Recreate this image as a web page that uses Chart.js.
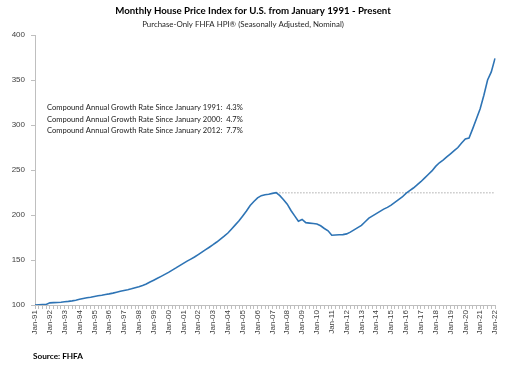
<!DOCTYPE html>
<html>
<head>
<meta charset="utf-8">
<script src="https://cdn.jsdelivr.net/npm/chart.js@4"></script>
<style>
  html, body { margin: 0; padding: 0; background: #fff; }
  #wrap { width: 512px; height: 365px; position: relative; }
</style>
</head>
<body>
<div id="wrap"><canvas id="hpi"></canvas></div>
<script>
// Quarterly readings (Jan, Apr, Jul, Oct) of the monthly index, Jan 1991 = 100
const years = ['91','92','93','94','95','96','97','98','99','00','01','02','03','04','05','06',
               '07','08','09','10','11','12','13','14','15','16','17','18','19','20','21','22'];
const quarterMonths = ['Jan', 'Apr', 'Jul', 'Oct'];

const hpi = [
  100.0, 100.2, 100.4, 100.6,   // 1991
  102.4, 102.6, 102.8, 103.1,   // 1992
  103.6, 104.0, 104.6, 105.3,   // 1993
  106.3, 107.2, 108.0, 108.7,   // 1994
  109.5, 110.2, 110.9, 111.7,   // 1995
  112.4, 113.2, 114.2, 115.2,   // 1996
  116.1, 117.0, 118.0, 119.1,   // 1997
  120.2, 121.7, 123.4, 125.6,   // 1998
  127.6, 129.7, 131.8, 134.0,   // 1999
  136.3, 138.8, 141.2, 143.8,   // 2000
  146.3, 148.7, 151.0, 153.3,   // 2001
  156.0, 158.8, 161.5, 164.2,   // 2002
  167.0, 170.0, 173.3, 176.5,   // 2003
  180.0, 184.5, 189.0, 193.5,   // 2004
  199.0, 204.5, 210.5, 215.0,   // 2005
  219.0, 221.5, 222.5, 223.0,   // 2006
  224.0, 224.8, 221.5, 217.0,   // 2007
  212.0, 205.0, 199.0, 193.0,   // 2008
  195.0, 191.5, 191.0, 190.5,   // 2009
  190.0, 188.0, 185.0, 182.5,   // 2010
  177.5, 177.8, 178.0, 178.2,   // 2011
  179.0, 181.0, 183.5, 186.0,   // 2012
  188.5, 192.5, 196.5, 199.0,   // 2013
  201.5, 204.0, 206.5, 208.5,   // 2014
  211.0, 214.0, 217.0, 220.0,   // 2015
  224.0, 227.0, 230.0, 233.5,   // 2016
  237.0, 241.0, 245.0, 249.0,   // 2017
  254.0, 258.0, 261.0, 264.5,   // 2018
  268.0, 271.5, 275.0, 280.0,   // 2019
  284.5, 285.5, 296.0, 307.0,   // 2020
  318.0, 333.0, 350.0, 359.0,   // 2021
  374.0                         // Jan 2022
];

const yTicks = [100, 150, 200, 250, 300, 350, 400];

const growthNotes = [
  'Compound Annual Growth Rate Since January 1991:  4.3%',
  'Compound Annual Growth Rate Since January 2000:  4.7%',
  'Compound Annual Growth Rate Since January 2012:  7.7%'
];

const titleText = 'Monthly House Price Index for U.S. from January 1991 - Present';
const subtitleText = 'Purchase-Only FHFA HPI\u00AE (Seasonally Adjusted, Nominal)';
const sourceText = 'Source: FHFA';

// build category labels, one per quarter, ending at Jan-22
const labels = [];
years.forEach(y => quarterMonths.forEach(m => labels.push(m + '-' + y)));
labels.length = hpi.length;

// dotted reference line at the 2007 peak
const peakValue = Math.max(...hpi.slice(0, 80));
const peakIndex = hpi.indexOf(peakValue);
const peakLine = hpi.map((v, i) => (i >= peakIndex ? peakValue : null));

// pick a font size so the text spans the width seen in the original
function fitFont(ctx, text, weight, family, width) {
  ctx.font = weight + ' 10px ' + family;
  const size = 10 * width / ctx.measureText(text).width;
  ctx.font = weight + ' ' + size.toFixed(2) + 'px ' + family;
}

const textPlugin = {
  id: 'texts',
  afterDraw(chart) {
    const ctx = chart.ctx;
    ctx.save();
    ctx.textBaseline = 'middle';

    ctx.fillStyle = '#000';
    ctx.textAlign = 'center';
    fitFont(ctx, titleText, 'bold', 'Lato', 276);
    ctx.fillText(titleText, 253, 11);

    ctx.fillStyle = '#262626';
    fitFont(ctx, subtitleText, 'normal', 'Lato', 202);
    ctx.fillText(subtitleText, 243, 24);

    ctx.textAlign = 'left';
    ctx.fillStyle = '#1a1a1a';
    fitFont(ctx, growthNotes[0], 'normal', 'Lato', 196);
    growthNotes.forEach((t, i) => ctx.fillText(t, 47, 108 + i * 11.5));

    ctx.fillStyle = '#000';
    fitFont(ctx, sourceText, 'bold', 'Lato', 50);
    ctx.fillText(sourceText, 33, 356);
    ctx.restore();
  }
};

new Chart(document.getElementById('hpi'), {
  type: 'line',
  data: {
    labels: labels,
    datasets: [
      {
        data: hpi,
        borderColor: '#2e74b5',
        borderWidth: 1.6,
        pointRadius: 0,
        tension: 0,
        fill: false
      },
      {
        data: peakLine,
        borderColor: '#c8c8c8',
        borderWidth: 1.5,
        borderDash: [1.5, 1.5],
        pointRadius: 0,
        fill: false
      }
    ]
  },
  options: {
    responsive: true,
    maintainAspectRatio: false,
    animation: false,
    layout: { padding: { top: 35, right: 17, left: 0, bottom: 0 } },
    plugins: {
      legend: { display: false },
      tooltip: { enabled: false }
    },
    scales: {
      x: {
        type: 'category',
        offset: false,
        border: { color: '#bfbfbf', width: 1 },
        grid: { drawOnChartArea: false, drawTicks: true, tickLength: 4, color: '#bfbfbf' },
        ticks: {
          autoSkip: false,
          minRotation: 90,
          maxRotation: 90,
          padding: 1,
          color: '#404040',
          font: { family: '"Liberation Sans"', size: 8 },
          callback: function (val, i) {
            return i % 4 === 0 ? labels[i] : '';
          }
        },
        afterFit: s => { s.height = 60; }
      },
      y: {
        min: 100,
        max: 400,
        border: { color: '#bfbfbf', width: 1 },
        grid: { drawOnChartArea: false, drawTicks: true, tickLength: 4, color: '#bfbfbf' },
        afterBuildTicks: s => { s.ticks = yTicks.map(v => ({ value: v })); },
        ticks: {
          padding: 6,
          color: '#404040',
          font: { family: '"Liberation Sans"', size: 8 }
        },
        afterFit: s => { s.width = 35; }
      }
    }
  },
  plugins: [textPlugin]
});
</script>
</body>
</html>
